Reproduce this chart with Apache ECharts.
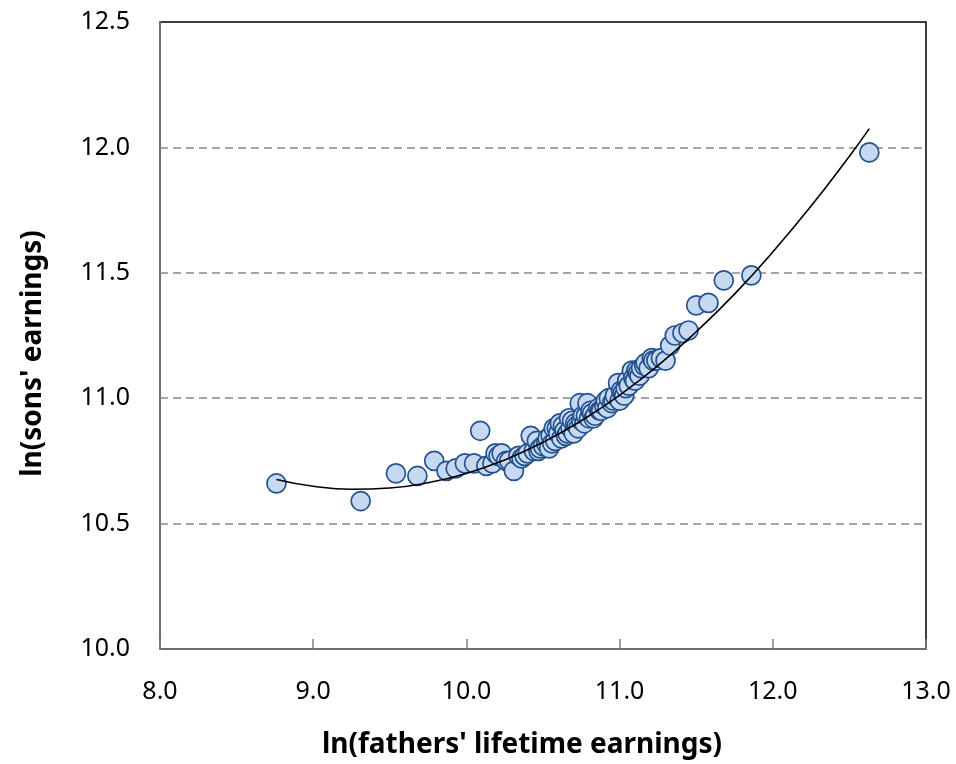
<!DOCTYPE html>
<html>
<head>
<meta charset="utf-8">
<script src="https://cdn.jsdelivr.net/npm/echarts@6/dist/echarts.min.js"></script>
<style>html,body{margin:0;padding:0;background:#fff}#c{width:956px;height:764px}</style>
</head>
<body>
<div id="c"></div>
<script>
// Data
const fathersLn = [8.76,9.31,9.54,9.68,9.79,9.87,9.93,9.99,10.05,10.09,10.13,10.17,10.19,10.21,10.23,10.26,10.28,10.31,10.34,10.36,10.38,10.40,10.42,10.44,10.46,10.47,10.48,10.50,10.52,10.53,10.54,10.55,10.56,10.57,10.58,10.59,10.60,10.61,10.62,10.63,10.64,10.65,10.66,10.67,10.68,10.69,10.70,10.71,10.72,10.73,10.74,10.75,10.76,10.77,10.78,10.79,10.80,10.81,10.82,10.83,10.84,10.86,10.87,10.88,10.90,10.91,10.92,10.93,10.95,10.96,10.97,10.99,11.00,11.01,11.02,11.03,11.04,11.05,11.06,11.08,11.09,11.10,11.11,11.12,11.13,11.14,11.16,11.17,11.19,11.21,11.22,11.24,11.27,11.30,11.33,11.36,11.41,11.45,11.50,11.58,11.68,11.86,12.63];
const sonsLn    = [10.66,10.59,10.70,10.69,10.75,10.71,10.72,10.74,10.74,10.87,10.73,10.74,10.78,10.77,10.78,10.75,10.75,10.71,10.77,10.76,10.77,10.78,10.85,10.79,10.83,10.79,10.80,10.81,10.82,10.84,10.80,10.85,10.82,10.88,10.83,10.88,10.86,10.90,10.84,10.89,10.87,10.85,10.86,10.92,10.88,10.91,10.86,10.90,10.89,10.88,10.98,10.91,10.93,10.90,10.93,10.98,10.92,10.95,10.94,10.92,10.93,10.96,10.95,10.95,10.97,10.99,10.96,11.00,10.98,10.99,11.01,11.06,10.99,11.03,11.02,11.01,11.04,11.07,11.05,11.11,11.08,11.07,11.11,11.10,11.09,11.12,11.13,11.14,11.12,11.16,11.15,11.15,11.16,11.15,11.21,11.25,11.26,11.27,11.37,11.38,11.47,11.49,11.98];
// Trend curve points
const trendX = [8.76,9.0,9.25,9.5,9.75,10.0,10.25,10.5,10.75,11.0,11.25,11.5,11.75,12.0,12.25,12.5,12.63];
const trendY = [10.676,10.649,10.637,10.642,10.663,10.700,10.754,10.824,10.910,11.012,11.130,11.265,11.415,11.583,11.766,11.965,12.075];
const xTicks = [8.0,9.0,10.0,11.0,12.0,13.0];
const yTicks = [10.0,10.5,11.0,11.5,12.0,12.5];

const pts = fathersLn.map((x,i)=>[x,sonsLn[i]]);
const trend = trendX.map((x,i)=>[x,trendY[i]]);
const font = "'Noto Sans', 'Open Sans', sans-serif";

const chart = echarts.init(document.getElementById('c'));
chart.setOption({
  animation:false,
  backgroundColor:'#fff',
  grid:{left:160,right:30,top:22,bottom:113,show:true,borderColor:'#000',borderWidth:1.5,backgroundColor:'transparent'},
  xAxis:{
    type:'value',min:xTicks[0],max:xTicks[xTicks.length-1],interval:1,
    name:"ln(fathers' lifetime earnings)",nameLocation:'middle',nameGap:82,
    nameTextStyle:{fontFamily:font,fontSize:28,fontWeight:'bold',color:'#000',padding:[0,42,0,0]},
    axisLine:{show:true,lineStyle:{color:'#808080',width:1.5}},
    axisTick:{show:true,inside:true,length:10,lineStyle:{color:'#808080',width:1.5}},
    axisLabel:{fontFamily:font,fontSize:25,color:'#000',margin:30,formatter:v=>v.toFixed(1)},
    splitLine:{show:false}
  },
  yAxis:{
    type:'value',min:yTicks[0],max:yTicks[yTicks.length-1],interval:0.5,
    name:"ln(sons' earnings)",nameLocation:'middle',nameGap:113,nameRotate:90,
    nameTextStyle:{fontFamily:font,fontSize:28,fontWeight:'bold',color:'#000',padding:[0,0,0,-36]},
    axisLine:{show:true,lineStyle:{color:'#808080',width:1.5}},
    axisTick:{show:false},
    axisLabel:{fontFamily:font,fontSize:25,color:'#000',margin:30,formatter:v=>v.toFixed(1)},
    splitLine:{show:true,lineStyle:{color:'#888',width:1.5,type:[8,5]},showMinLine:false,showMaxLine:false}
  },
  series:[
    {type:'scatter',data:pts,symbol:'circle',symbolSize:19,
     itemStyle:{color:'#c6d9f1',borderColor:'#23508f',borderWidth:1.7,opacity:1},z:2},
    {type:'line',data:trend,smooth:true,showSymbol:false,symbol:'none',
     lineStyle:{color:'#000',width:1.6},z:3}
  ]
});
</script>
</body>
</html>
